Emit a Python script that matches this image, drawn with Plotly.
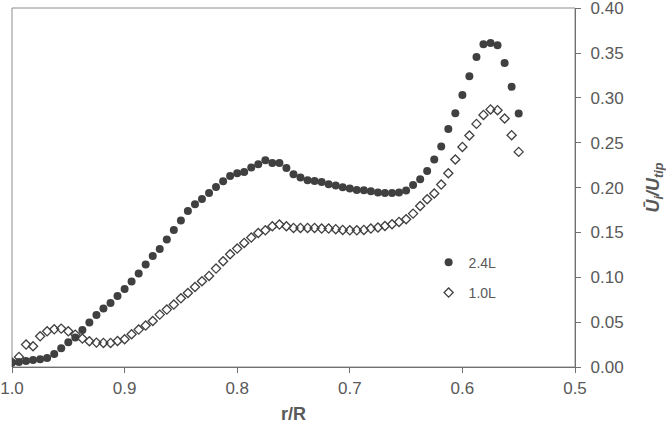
import plotly.graph_objects as go

# r/R positions (73 stations)
r_R = [1.0000, 0.9938, 0.9875, 0.9813, 0.9750, 0.9688, 0.9625, 0.9563, 0.9500, 0.9438,
       0.9375, 0.9313, 0.9250, 0.9188, 0.9125, 0.9063, 0.9000, 0.8938, 0.8875, 0.8813,
       0.8750, 0.8688, 0.8625, 0.8563, 0.8500, 0.8438, 0.8375, 0.8313, 0.8250, 0.8188,
       0.8125, 0.8063, 0.8000, 0.7938, 0.7875, 0.7813, 0.7750, 0.7688, 0.7625, 0.7563,
       0.7500, 0.7438, 0.7375, 0.7313, 0.7250, 0.7188, 0.7125, 0.7063, 0.7000, 0.6938,
       0.6875, 0.6813, 0.6750, 0.6688, 0.6625, 0.6563, 0.6500, 0.6438, 0.6375, 0.6313,
       0.6250, 0.6188, 0.6125, 0.6063, 0.6000, 0.5938, 0.5875, 0.5813, 0.5750, 0.5688,
       0.5625, 0.5563, 0.5500]

# 2.4L
u_24 = [0.0049, 0.0056, 0.0067, 0.0078, 0.0086, 0.0100, 0.0145, 0.0209, 0.0275, 0.0328,
        0.0413, 0.0495, 0.0580, 0.0651, 0.0714, 0.0792, 0.0870, 0.0952, 0.1042, 0.1142,
        0.1238, 0.1316, 0.1421, 0.1528, 0.1633, 0.1740, 0.1814, 0.1874, 0.1940, 0.2007,
        0.2071, 0.2130, 0.2160, 0.2175, 0.2224, 0.2261, 0.2305, 0.2275, 0.2275, 0.2219,
        0.2149, 0.2112, 0.2082, 0.2074, 0.2063, 0.2037, 0.2023, 0.2004, 0.1990, 0.1974,
        0.1971, 0.1959, 0.1945, 0.1940, 0.1940, 0.1945, 0.1967, 0.2030, 0.2093, 0.2186,
        0.2313, 0.2458, 0.2654, 0.2829, 0.3033, 0.3242, 0.3457, 0.3599, 0.3613, 0.3588,
        0.3390, 0.3123, 0.2826]

# 1.0L
u_10 = [0.0050, 0.0112, 0.0250, 0.0231, 0.0342, 0.0398, 0.0420, 0.0428, 0.0398, 0.0361,
        0.0317, 0.0287, 0.0272, 0.0268, 0.0268, 0.0290, 0.0309, 0.0365, 0.0417, 0.0462,
        0.0513, 0.0584, 0.0640, 0.0696, 0.0766, 0.0825, 0.0892, 0.0956, 0.1015, 0.1097,
        0.1179, 0.1257, 0.1320, 0.1383, 0.1443, 0.1494, 0.1524, 0.1569, 0.1588, 0.1569,
        0.1550, 0.1550, 0.1550, 0.1550, 0.1543, 0.1543, 0.1536, 0.1528, 0.1524, 0.1524,
        0.1528, 0.1543, 0.1555, 0.1572, 0.1591, 0.1617, 0.1647, 0.1710, 0.1795, 0.1870,
        0.1934, 0.2034, 0.2160, 0.2313, 0.2453, 0.2581, 0.2710, 0.2810, 0.2871, 0.2863,
        0.2770, 0.2584, 0.2398]

x_ticks = [1.0, 0.9, 0.8, 0.7, 0.6, 0.5]
y_ticks = [0.00, 0.05, 0.10, 0.15, 0.20, 0.25, 0.30, 0.35, 0.40]

dark = "#404040"
text_col = "#595959"
font_fam = "Liberation Sans, Arial, sans-serif"

fig = go.Figure()

fig.add_trace(go.Scatter(
    x=r_R, y=u_24, mode="markers", name="2.4L", legendgroup="a",
    marker=dict(symbol="circle", size=8, color=dark, line=dict(width=0))
))
fig.add_trace(go.Scatter(
    x=r_R, y=u_10, mode="markers", name="1.0L", legendgroup="b",
    marker=dict(symbol="diamond-open", size=7, color=dark, line=dict(width=1.3, color=dark))
))

# light frame round the plot area
fig.add_shape(type="rect", xref="paper", yref="paper", x0=0, y0=0, x1=1, y1=1,
              line=dict(color="#8c8c8c", width=1), layer="below")

fig.update_xaxes(
    range=[1.0, 0.5], tickvals=x_ticks, tickformat=".1f", automargin=False,
    ticklabeloverflow="allow",
    showgrid=False, zeroline=False,
    showline=True, linecolor="#707070", linewidth=1.3,
    ticks="outside", ticklen=5, tickcolor="#707070",
    tickfont=dict(size=17, color=text_col, family=font_fam),
    title=dict(text="<b>r/R</b>", font=dict(size=18, color=text_col, family=font_fam), standoff=10),
)
fig.update_yaxes(
    range=[0, 0.4002], tickvals=y_ticks, tickformat=".2f", side="right", automargin=False,
    ticklabeloverflow="allow", ticklabelstandoff=6,
    showgrid=False, zeroline=False,
    showline=True, linecolor="#707070", linewidth=1.3,
    ticks="outside", ticklen=5, tickcolor="#707070",
    tickfont=dict(size=17, color=text_col, family=font_fam),
    title=dict(text="<b><i>Ū<sub>i</sub>/U<sub>tip</sub></i></b>",
               font=dict(size=18, color=text_col, family=font_fam), standoff=35),
)

fig.update_layout(
    width=666, height=430,
    margin=dict(l=12, r=91, t=8, b=63),
    paper_bgcolor="white", plot_bgcolor="white",
    showlegend=True,
    legend=dict(x=0.740, y=0.335, xanchor="left", yanchor="top",
                bgcolor="rgba(0,0,0,0)", tracegroupgap=9,
                font=dict(size=14, color=text_col, family=font_fam),
                itemwidth=30),
)

# drop the page's default body margin so the figure sits at the window corner
fig.write_html("out.html", config={"displayModeBar": False},
               post_script="document.body.style.margin='0';")
